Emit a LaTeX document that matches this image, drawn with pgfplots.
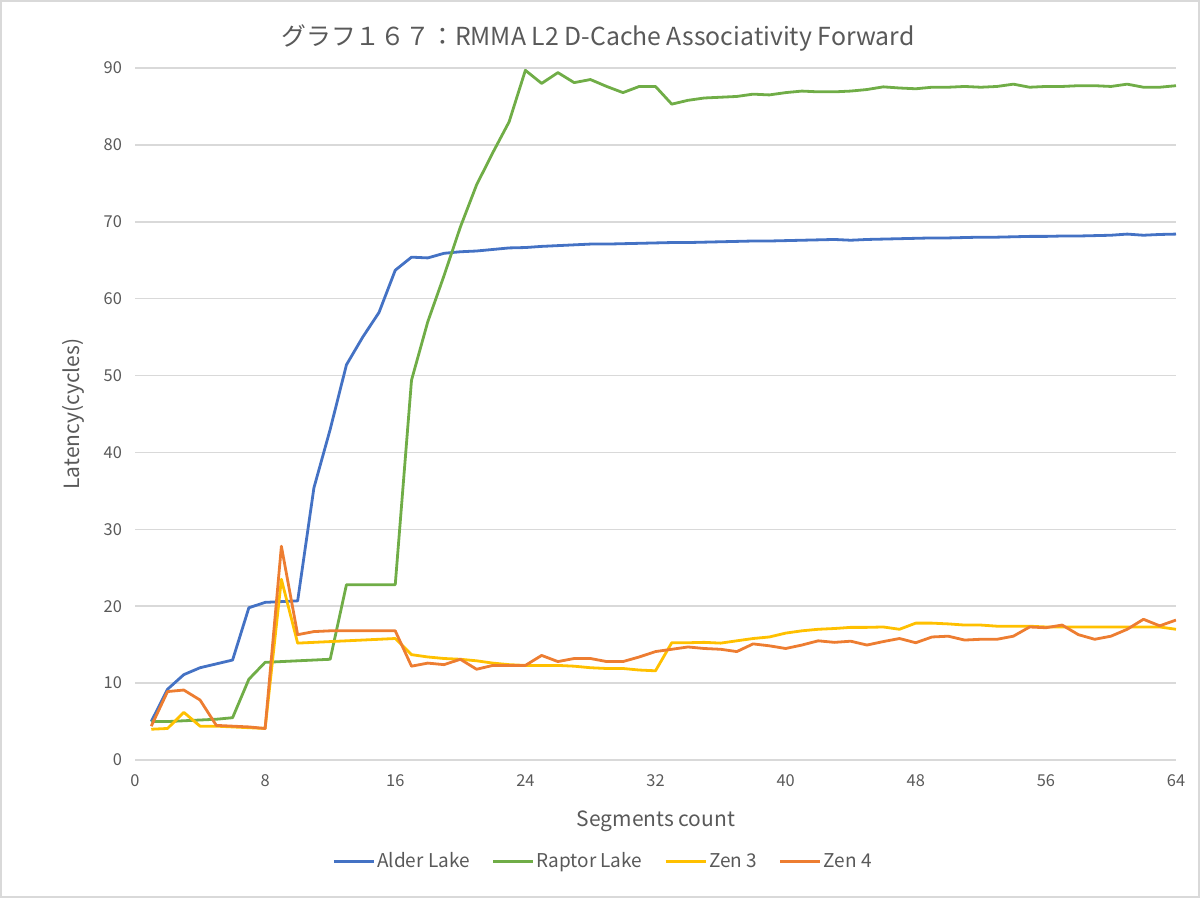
\documentclass[border=0pt]{standalone}
\usepackage{fontspec}
\setmainfont{Noto Sans CJK JP}
\usepackage{pgfplots}
\usepackage{pgfplotstable}
\pgfplotsset{compat=1.18}

\definecolor{alder}{HTML}{4472C4}
\definecolor{raptor}{HTML}{70AD47}
\definecolor{zenthree}{HTML}{FFC000}
\definecolor{zenfour}{HTML}{ED7D31}
\definecolor{txt}{HTML}{595959}
\definecolor{gridc}{HTML}{D9D9D9}

% segments, latency (cycles)
\pgfplotstableread{
x alder raptor zen3 zen4
1  5.0  5.0  4.0  4.4
2  9.2  5.0  4.1  8.9
3 11.1  5.1  6.2  9.1
4 12.0  5.2  4.4  7.8
5 12.5  5.3  4.4  4.5
6 13.0  5.5  4.3  4.4
7 19.8 10.5  4.2  4.3
8 20.5 12.7  4.1  4.1
9 20.6 12.8 23.5 27.8
10 20.7 12.9 15.2 16.3
11 35.4 13.0 15.3 16.7
12 43.0 13.1 15.4 16.8
13 51.4 22.8 15.5 16.8
14 55.0 22.8 15.6 16.8
15 58.2 22.8 15.7 16.8
16 63.7 22.8 15.8 16.8
17 65.4 49.4 13.7 12.2
18 65.3 57.0 13.4 12.6
19 65.9 63.0 13.2 12.4
20 66.1 69.3 13.1 13.1
21 66.2 74.8 12.9 11.8
22 66.4 79.0 12.6 12.3
23 66.6 83.0 12.4 12.3
24 66.65 89.7 12.3 12.3
25 66.8 88.0 12.3 13.6
26 66.9 89.4 12.3 12.8
27 67.0 88.1 12.2 13.2
28 67.1 88.5 12.0 13.2
29 67.1 87.6 11.9 12.8
30 67.15 86.8 11.9 12.8
31 67.2 87.6 11.7 13.4
32 67.25 87.6 11.6 14.1
33 67.3 85.3 15.25 14.4
34 67.3 85.8 15.25 14.7
35 67.35 86.1 15.3 14.5
36 67.4 86.2 15.2 14.4
37 67.45 86.3 15.5 14.1
38 67.5 86.6 15.8 15.1
39 67.5 86.5 16.0 14.85
40 67.55 86.8 16.5 14.5
41 67.6 87.0 16.8 14.95
42 67.65 86.9 17.0 15.5
43 67.7 86.9 17.1 15.3
44 67.6 87.0 17.25 15.45
45 67.7 87.2 17.25 14.95
46 67.75 87.55 17.3 15.4
47 67.8 87.4 17.0 15.8
48 67.85 87.3 17.8 15.25
49 67.9 87.5 17.8 16.0
50 67.9 87.5 17.7 16.1
51 67.95 87.6 17.55 15.6
52 68.0 87.5 17.55 15.7
53 68.0 87.6 17.4 15.7
54 68.05 87.9 17.4 16.1
55 68.1 87.5 17.4 17.3
56 68.1 87.6 17.3 17.2
57 68.15 87.6 17.3 17.55
58 68.15 87.7 17.3 16.3
59 68.2 87.7 17.3 15.7
60 68.25 87.6 17.3 16.1
61 68.4 87.9 17.3 17.0
62 68.25 87.5 17.3 18.3
63 68.35 87.5 17.3 17.45
64 68.4 87.7 17.0 18.2
}\datatable

\begin{document}
\begin{tikzpicture}
\path[use as bounding box] (0,0) rectangle (600pt,449pt);
\draw[gridc, line width=0.6pt] (0.5pt,0.5pt) rectangle (599.5pt,448.5pt);
\begin{axis}[
    at={(67.5pt,69pt)}, anchor=south west,
    scale only axis,
    width=520.5pt, height=346pt,
    xmin=0, xmax=64, ymin=0, ymax=90,
    xtick={0,8,...,64},
    ytick={0,10,...,90},
    axis line style={draw=none},
    major tick length=0pt,
    ymajorgrids,
    grid style={gridc, line width=0.8pt},
    every tick label/.append style={font=\fontsize{8.2}{10}\selectfont, text=txt},
    /pgf/number format/assume math mode=true,
    xticklabel style={yshift=-4pt},
    yticklabel style={xshift=-3pt},
    every axis title shift=0pt,
    title={グラフ１６７：RMMA L2 D-Cache Associativity Forward},
    title style={at={(axis description cs:0.4448,1.043)}, anchor=center,
        font=\fontsize{12.4}{14}\selectfont, text=txt},
    xlabel={Segments count},
    xlabel style={at={(axis description cs:0.5005,-0.088)}, anchor=center,
        font=\fontsize{10.5}{12}\selectfont, text=txt},
    ylabel={Latency(cycles)},
    ylabel style={at={(axis description cs:-0.0596,0.5)}, anchor=center, rotate=0,
        font=\fontsize{10.5}{12}\selectfont, text=txt},
    legend columns=4,
    legend style={at={(axis description cs:0.4496,-0.147)}, anchor=center,
        draw=none, fill=none, font=\fontsize{9.5}{11}\selectfont, text=txt,
        nodes={inner xsep=1pt},
        /tikz/every even column/.append style={column sep=10pt}},
    legend image code/.code={\draw[#1, line width=1.4pt] (0pt,0pt) -- (20pt,0pt);},
    every axis plot/.append style={line width=1.4pt, line join=round},
]
\addplot[alder] table[x=x, y=alder] {\datatable};
\addlegendentry{Alder Lake}
\addplot[raptor] table[x=x, y=raptor] {\datatable};
\addlegendentry{Raptor Lake}
\addplot[zenthree] table[x=x, y=zen3] {\datatable};
\addlegendentry{Zen 3}
\addplot[zenfour] table[x=x, y=zen4] {\datatable};
\addlegendentry{Zen 4}
\end{axis}
\end{tikzpicture}
\end{document}
